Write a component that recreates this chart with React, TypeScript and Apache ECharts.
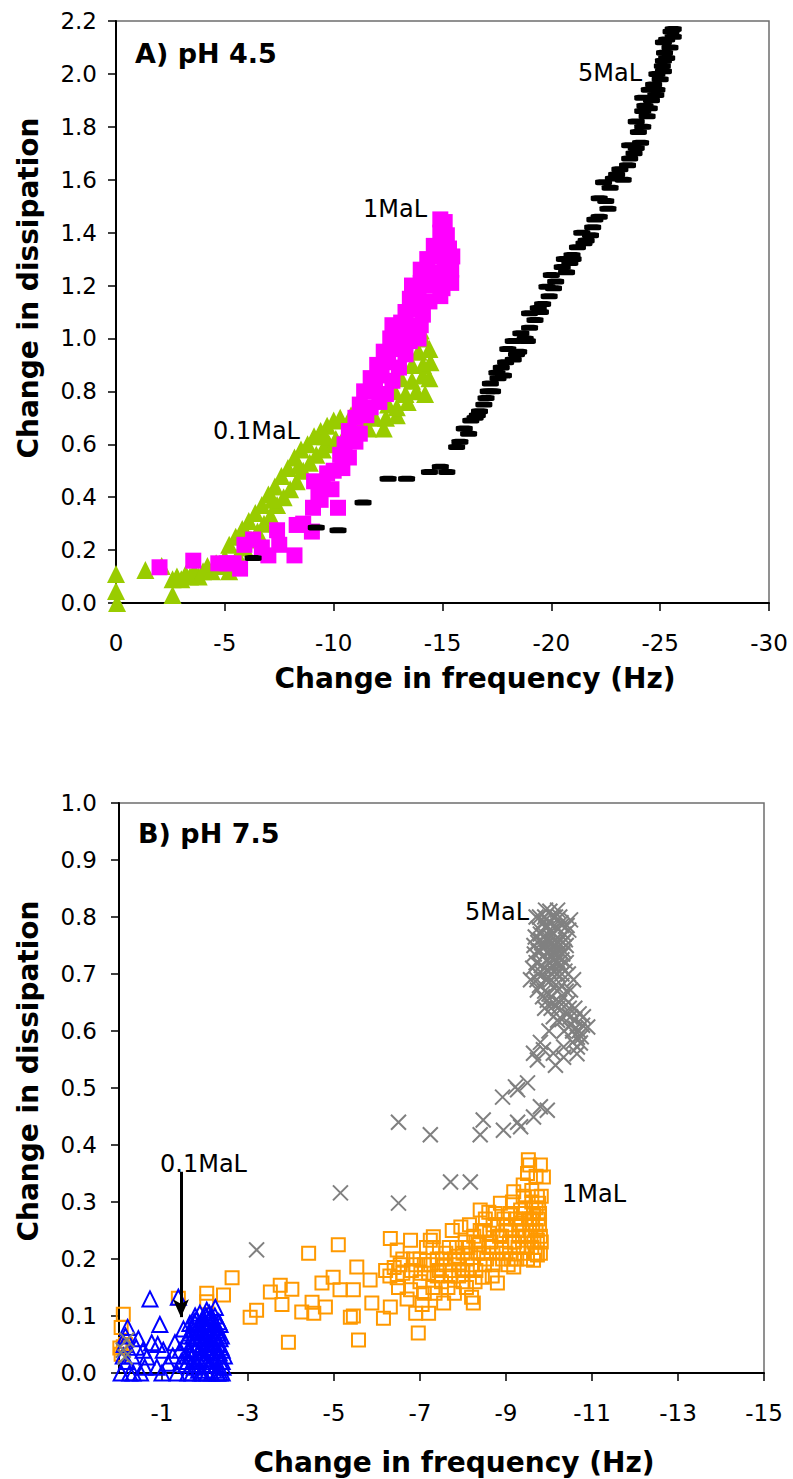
import React, { useEffect, useRef } from "react";
import * as echarts from "echarts";

// ---------- Panel A (pH 4.5) ----------
const topXTicks = { min: -30, max: 0, interval: 5 };
const topYTicks = { min: 0, max: 2.2, interval: 0.2 };

const topGreen01MaL: number[][] = [
  // low start
  [0.0, 0.11], [0.0, 0.045], [-0.05, 0.0], [-1.35, 0.125], [-2.1, 0.14], [-2.6, 0.03], [-2.6, 0.09],
  [-2.8, 0.1], [-3.0, 0.09], [-3.2, 0.11], [-3.4, 0.1], [-3.6, 0.12], [-3.8, 0.1], [-4.0, 0.12],
  [-4.2, 0.14], [-4.4, 0.12], [-4.6, 0.15], [-4.8, 0.14], [-5.0, 0.17], [-5.2, 0.12],
  // upper row of band
  [-5.2, 0.22], [-5.5, 0.25], [-5.8, 0.28], [-6.1, 0.31], [-6.4, 0.34], [-6.7, 0.37], [-7.0, 0.41],
  [-7.3, 0.44], [-7.6, 0.48], [-7.9, 0.51], [-8.2, 0.55], [-8.5, 0.58], [-8.8, 0.6], [-9.1, 0.63],
  [-9.4, 0.65], [-9.7, 0.67], [-10.0, 0.69], [-10.3, 0.7],
  // lower row of band
  [-5.3, 0.14], [-5.6, 0.18], [-5.9, 0.21], [-6.2, 0.24], [-6.5, 0.27], [-6.8, 0.3], [-7.1, 0.33],
  [-7.4, 0.37], [-7.7, 0.4], [-8.0, 0.43], [-8.3, 0.46], [-8.6, 0.5], [-8.9, 0.53], [-9.2, 0.56],
  [-9.5, 0.58], [-9.8, 0.6], [-10.1, 0.62],
  [-6.0, 0.26], [-7.2, 0.39], [-8.4, 0.52], [-9.6, 0.63],
  // continuation under / right of 1MaL
  [-10.6, 0.65], [-10.8, 0.71], [-11.1, 0.66], [-11.3, 0.7], [-11.6, 0.66], [-11.9, 0.7], [-12.3, 0.66],
  [-12.4, 0.7], [-12.9, 0.71], [-12.5, 0.75], [-12.9, 0.74], [-13.4, 0.76], [-12.8, 0.8], [-13.3, 0.79],
  [-13.8, 0.8], [-14.2, 0.79], [-13.1, 0.85], [-13.6, 0.84], [-14.1, 0.86], [-14.4, 0.85], [-13.6, 0.9],
  [-14.1, 0.9], [-14.45, 0.91], [-13.9, 0.95], [-14.4, 0.96], [-14.1, 1.0], [-14.0, 1.03],
];

const topMagenta1MaL: number[][] = [
  [-2.0, 0.135], [-3.55, 0.16], [-4.7, 0.15], [-5.1, 0.15], [-5.4, 0.15], [-5.7, 0.13], [-5.9, 0.22],
  [-6.3, 0.24], [-6.7, 0.21], [-7.0, 0.18], [-7.4, 0.275], [-7.5, 0.22], [-8.2, 0.18], [-8.3, 0.295],
  [-8.6, 0.3], [-9.0, 0.27], [-9.05, 0.36], [-9.3, 0.41], [-9.4, 0.39], [-9.1, 0.46], [-9.5, 0.45],
  [-9.9, 0.43], [-10.2, 0.36], [-9.7, 0.49],
  [-10.0, 0.5], [-10.4, 0.51], [-10.3, 0.56], [-10.7, 0.55], [-10.5, 0.6], [-11.0, 0.61], [-10.7, 0.65],
  [-11.2, 0.64], [-11.0, 0.7], [-11.5, 0.71], [-11.2, 0.75], [-11.7, 0.74], [-12.1, 0.76], [-11.4, 0.8],
  [-11.9, 0.81], [-12.4, 0.79], [-11.7, 0.85], [-12.2, 0.86], [-12.7, 0.84], [-12.0, 0.9], [-12.5, 0.91],
  [-13.0, 0.89], [-12.3, 0.95], [-12.8, 0.96], [-13.3, 0.94], [-12.6, 1.0], [-13.0, 1.01], [-13.5, 0.99],
  [-13.9, 1.0], [-12.7, 1.05], [-13.1, 1.06], [-13.5, 1.04], [-14.0, 1.05], [-13.3, 1.1], [-13.7, 1.11],
  [-14.1, 1.09], [-13.5, 1.15], [-13.9, 1.16], [-14.4, 1.14], [-14.9, 1.16], [-13.6, 1.2], [-14.0, 1.21],
  [-14.5, 1.2], [-15.0, 1.19], [-15.4, 1.21], [-14.0, 1.26], [-14.5, 1.25], [-14.9, 1.24], [-15.4, 1.26],
  [-14.3, 1.3], [-14.7, 1.31], [-15.1, 1.29], [-15.45, 1.31], [-14.6, 1.35], [-15.0, 1.36], [-15.3, 1.34],
  [-14.9, 1.4], [-15.2, 1.39], [-14.9, 1.45], [-15.1, 1.44],
];

const topBlack5MaL: number[][] = [
  [-6.3, 0.17], [-9.2, 0.285], [-10.2, 0.275], [-11.35, 0.38], [-12.5, 0.47], [-13.35, 0.47],
  [-14.4, 0.495], [-15.2, 0.495], [-14.9, 0.515], [-15.65, 0.59], [-15.8, 0.61], [-16.0, 0.66], [-16.2, 0.64],
  [-16.3, 0.69], [-16.5, 0.7], [-16.6, 0.71], [-16.7, 0.725], [-16.9, 0.75], [-17.0, 0.775], [-17.1, 0.8],
  [-17.3, 0.8], [-17.2, 0.83], [-17.55, 0.85], [-17.8, 0.86], [-17.5, 0.87], [-17.7, 0.89], [-17.9, 0.91],
  [-18.25, 0.92], [-18.4, 0.94], [-18.5, 0.95], [-18.0, 0.96], [-18.25, 0.99], [-18.9, 0.99], [-18.8, 1.0],
  [-18.6, 1.02], [-19.0, 1.04], [-19.25, 1.07], [-19.5, 1.1], [-19.0, 1.095], [-19.4, 1.115], [-19.6, 1.13],
  [-19.9, 1.16], [-20.1, 1.19], [-19.8, 1.195], [-20.2, 1.215], [-20.0, 1.24], [-20.7, 1.25], [-20.5, 1.27],
  [-20.85, 1.285], [-20.6, 1.3], [-21.0, 1.3], [-20.95, 1.315], [-21.2, 1.345], [-21.5, 1.36], [-21.6, 1.37],
  [-21.8, 1.39], [-21.4, 1.4], [-21.9, 1.42], [-22.0, 1.45], [-22.2, 1.46], [-22.6, 1.49], [-22.5, 1.52],
  [-22.2, 1.53], [-22.7, 1.57], [-22.4, 1.59], [-23.3, 1.6], [-22.85, 1.605], [-23.0, 1.62], [-23.15, 1.64],
  [-23.5, 1.655], [-23.6, 1.68], [-23.8, 1.7], [-23.9, 1.72], [-23.6, 1.73], [-24.1, 1.74], [-24.0, 1.78],
  [-24.2, 1.8], [-23.9, 1.82], [-24.4, 1.84], [-24.2, 1.86], [-24.5, 1.87], [-24.3, 1.88], [-24.6, 1.9],
  [-24.2, 1.91], [-24.8, 1.92], [-24.5, 1.94], [-24.85, 1.94], [-24.7, 1.96], [-25.0, 1.98], [-24.85, 2.0],
  [-25.15, 2.01], [-25.1, 2.03], [-25.15, 2.05], [-25.3, 2.06], [-25.2, 2.08], [-25.45, 2.1], [-25.15, 2.12],
  [-25.3, 2.13], [-25.6, 2.14], [-25.5, 2.16], [-25.6, 2.17],
];

// ---------- Panel B (pH 7.5) ----------
const bottomXLabels = [-1, -3, -5, -7, -9, -11, -13, -15];
const bottomXRange = { min: -15, max: 0 };
const bottomYTicks = { min: 0, max: 1, interval: 0.1 };

const bottomBlue01MaL: number[][] = [
  [-0.05, 0.0], [-0.25, 0.0], [-0.5, 0.0], [-0.18, 0.02], [-0.56, 0.04], [-0.45, 0.06], [-0.2, 0.08],
  [-0.12, 0.05], [-0.3, 0.03], [-0.1, 0.03], [-0.72, 0.13], [-0.95, 0.085], [-1.03, 0.04], [-0.88, 0.01],
  [-1.14, 0.017], [-1.38, 0.133], [-0.76, 0.053], [-1.3, 0.053], [-0.65, 0.028], [-1.5, 0.077], [-1.42, 0.04],
  [-1.65, 0.087], [-1.8, 0.093], [-1.88, 0.105], [-2.04, 0.11], [-2.24, 0.115], [-1.6, 0.0], [-2.28, 0.0],
  [-2.35, 0.0], [-1.0, 0.0], [-0.33, 0.0], [-1.6, 0.02], [-1.7, 0.05], [-1.75, 0.01], [-1.85, 0.035],
  [-1.9, 0.065], [-1.95, 0.0], [-2.0, 0.045], [-2.05, 0.08], [-2.1, 0.015], [-2.15, 0.06], [-2.2, 0.03],
  [-2.25, 0.085], [-2.3, 0.05], [-2.35, 0.02], [-2.1, 0.095], [-1.95, 0.075], [-1.8, 0.06], [-2.0, 0.025],
  [-2.2, 0.005], [-1.7, 0.03], [-2.3, 0.07], [-2.4, 0.04], [-1.55, 0.055], [-2.15, 0.04], [-2.25, 0.015],
  [-1.9, 0.0], [-2.05, 0.0], [-1.85, 0.085], [-2.35, 0.085],
  [-1.65, 0.07], [-1.75, 0.09], [-1.8, 0.02], [-1.9, 0.045], [-1.95, 0.095], [-2.0, 0.06], [-2.05, 0.035],
  [-2.1, 0.07], [-2.15, 0.1], [-2.2, 0.05], [-2.25, 0.065], [-2.3, 0.03], [-2.35, 0.06], [-2.4, 0.0],
  [-2.4, 0.02], [-1.7, 0.0], [-1.85, 0.005], [-2.15, 0.0], [-2.3, 0.0], [-2.0, 0.09], [-2.1, 0.105],
  [-2.2, 0.08], [-1.6, 0.04], [-1.55, 0.015], [-1.45, 0.02], [-1.35, 0.0], [-1.25, 0.03], [-0.9, 0.05],
  [-0.6, 0.01], [-0.4, 0.045], [-0.15, 0.065],
  [-1.62, 0.065], [-1.68, 0.015], [-1.73, 0.075], [-1.78, 0.04], [-1.83, 0.07], [-1.87, 0.02], [-1.93, 0.05],
  [-1.98, 0.085], [-2.03, 0.015], [-2.07, 0.055], [-2.12, 0.085], [-2.17, 0.025], [-2.22, 0.06], [-2.27, 0.04],
  [-2.32, 0.09], [-2.37, 0.045], [-1.66, 0.035], [-1.72, 0.065], [-1.77, 0.1], [-1.82, 0.05], [-1.88, 0.08],
  [-1.92, 0.03], [-1.97, 0.06], [-2.02, 0.1], [-2.08, 0.04], [-2.13, 0.075], [-2.18, 0.045], [-2.23, 0.1],
  [-2.28, 0.075], [-2.33, 0.035], [-2.38, 0.065], [-2.42, 0.01], [-1.58, 0.03], [-2.45, 0.03],
];

const bottomOrange1MaL: number[][] = [
  [-0.1, 0.103], [-0.05, 0.08], [-0.02, 0.044], [-0.1, 0.046], [-0.05, 0.033], [-0.15, 0.05],
  [-1.38, 0.131], [-2.04, 0.14], [-2.04, 0.125], [-2.43, 0.137], [-2.63, 0.167], [-3.05, 0.098], [-3.2, 0.11],
  [-3.52, 0.142], [-3.75, 0.154], [-4.02, 0.147], [-3.79, 0.12], [-3.94, 0.054], [-4.41, 0.21], [-4.25, 0.107],
  [-4.53, 0.105], [-4.49, 0.124], [-4.72, 0.158], [-4.8, 0.116], [-4.98, 0.168], [-5.1, 0.225], [-5.14, 0.146],
  [-5.38, 0.098], [-5.45, 0.1], [-5.57, 0.058], [-5.53, 0.186], [-5.45, 0.146], [-5.84, 0.163], [-5.88, 0.123],
  [-6.15, 0.096], [-6.31, 0.236], [-6.31, 0.116], [-6.47, 0.216], [-6.78, 0.233], [-6.54, 0.19], [-6.47, 0.167],
  [-6.96, 0.07], [-6.78, 0.146], [-7.24, 0.233], [-7.31, 0.239],
  [-6.2, 0.18], [-6.3, 0.17], [-6.4, 0.185], [-6.5, 0.15], [-6.6, 0.175], [-6.7, 0.13], [-6.8, 0.18],
  [-6.9, 0.105], [-6.85, 0.2], [-7.0, 0.16], [-7.05, 0.12], [-7.1, 0.19], [-7.2, 0.105], [-7.2, 0.175],
  [-7.3, 0.22], [-7.35, 0.14], [-7.4, 0.2], [-7.5, 0.16], [-7.55, 0.123], [-7.6, 0.21], [-7.7, 0.18],
  [-7.75, 0.25], [-7.8, 0.14], [-7.85, 0.22], [-7.9, 0.19], [-7.95, 0.256], [-8.0, 0.16], [-8.05, 0.23],
  [-8.1, 0.2], [-8.2, 0.133], [-8.24, 0.123], [-8.25, 0.24], [-8.3, 0.18], [-8.35, 0.21], [-8.4, 0.286],
  [-8.45, 0.168], [-8.5, 0.25], [-8.55, 0.2], [-8.6, 0.282], [-8.65, 0.23], [-8.7, 0.19], [-8.8, 0.158],
  [-8.8, 0.26], [-8.87, 0.298], [-8.9, 0.22], [-9.0, 0.25], [-9.05, 0.19], [-9.1, 0.28], [-9.18, 0.318],
  [-9.18, 0.186], [-9.2, 0.23], [-9.3, 0.26], [-9.34, 0.286], [-9.4, 0.21], [-9.45, 0.24], [-9.5, 0.35],
  [-9.52, 0.374], [-9.55, 0.27], [-9.6, 0.22], [-9.64, 0.198], [-9.64, 0.28], [-9.7, 0.25], [-9.73, 0.309],
  [-9.73, 0.207], [-9.73, 0.233], [-9.76, 0.298], [-9.8, 0.365], [-9.87, 0.344], [-9.6, 0.3], [-9.4, 0.31],
  [-7.0, 0.2], [-7.15, 0.22], [-7.45, 0.18], [-7.65, 0.15], [-7.9, 0.17], [-8.0, 0.21], [-8.15, 0.26],
  [-8.3, 0.23], [-8.5, 0.19], [-8.6, 0.22], [-8.7, 0.26], [-8.75, 0.28], [-8.95, 0.27], [-9.0, 0.21],
  [-9.1, 0.25], [-9.15, 0.3], [-9.25, 0.2], [-9.3, 0.24], [-9.35, 0.27], [-9.45, 0.29], [-9.5, 0.2],
  [-9.55, 0.25], [-9.6, 0.27], [-9.65, 0.23], [-9.7, 0.29], [-9.75, 0.27], [-9.8, 0.24], [-9.8, 0.21],
  [-8.9, 0.24], [-8.4, 0.25], [-8.1, 0.18], [-7.8, 0.2], [-7.6, 0.19], [-7.3, 0.15], [-7.1, 0.14],
  [-6.9, 0.19], [-6.6, 0.2], [-9.4, 0.33], [-9.6, 0.32], [-9.7, 0.345], [-9.55, 0.365],
  [-7.02, 0.175], [-7.25, 0.19], [-7.4, 0.17], [-7.52, 0.2], [-7.68, 0.22], [-7.72, 0.17], [-7.88, 0.205],
  [-7.98, 0.18], [-8.08, 0.15], [-8.12, 0.22], [-8.22, 0.19], [-8.28, 0.16], [-8.38, 0.225], [-8.48, 0.21],
  [-8.52, 0.27], [-8.62, 0.245], [-8.68, 0.17], [-8.78, 0.21], [-8.85, 0.24], [-8.92, 0.2], [-9.02, 0.26],
  [-9.08, 0.23], [-9.12, 0.2], [-9.22, 0.27], [-9.28, 0.22], [-9.38, 0.25], [-9.42, 0.28], [-9.48, 0.22],
  [-9.58, 0.24], [-9.62, 0.26], [-9.68, 0.21], [-9.78, 0.26], [-9.78, 0.28], [-9.82, 0.31], [-9.82, 0.23],
];

const bottomGray5MaL: number[][] = [
  [-0.18, 0.058], [-0.14, 0.028], [-0.1, 0.04],
  [-3.2, 0.216], [-5.15, 0.316], [-6.5, 0.44], [-6.5, 0.298], [-7.24, 0.418], [-7.71, 0.335], [-8.17, 0.335],
  [-8.4, 0.418], [-8.47, 0.444], [-8.94, 0.426], [-9.34, 0.432], [-9.27, 0.44], [-8.92, 0.484], [-9.27, 0.497],
  [-9.22, 0.502], [-9.5, 0.509], [-9.8, 0.467], [-9.96, 0.461], [-9.64, 0.449],
  [-9.73, 0.549], [-10.1, 0.561], [-10.34, 0.572], [-10.73, 0.579], [-9.64, 0.561], [-9.87, 0.567],
  [-10.34, 0.554], [-10.66, 0.572], [-10.15, 0.54], [-10.8, 0.625], [-10.9, 0.607], [-10.66, 0.589],
  [-10.2, 0.619], [-9.96, 0.654], [-10.5, 0.672], [-9.73, 0.672], [-10.57, 0.69], [-9.57, 0.69],
  [-9.8, 0.76], [-10.46, 0.777], [-10.5, 0.795], [-10.2, 0.812], [-9.92, 0.812],
  [-9.7, 0.72], [-9.75, 0.78], [-9.8, 0.74], [-9.85, 0.7], [-9.9, 0.8], [-9.95, 0.76], [-10.0, 0.72],
  [-10.0, 0.79], [-10.05, 0.745], [-10.1, 0.705], [-10.1, 0.77], [-10.15, 0.8], [-10.2, 0.73], [-10.25, 0.76],
  [-10.3, 0.7], [-10.3, 0.785], [-10.35, 0.74], [-10.4, 0.72], [-9.95, 0.69], [-10.15, 0.68], [-9.85, 0.66],
  [-10.05, 0.64], [-10.25, 0.65], [-10.4, 0.63], [-10.6, 0.64], [-10.7, 0.6], [-10.5, 0.61], [-10.35, 0.6],
  [-10.55, 0.58], [-10.0, 0.6], [-9.8, 0.58], [-10.4, 0.67], [-10.2, 0.67],
  [-9.65, 0.75], [-9.7, 0.8], [-9.75, 0.7], [-9.8, 0.77], [-9.85, 0.73], [-9.9, 0.75], [-9.9, 0.71],
  [-9.95, 0.785], [-10.0, 0.755], [-10.0, 0.705], [-10.05, 0.775], [-10.05, 0.73], [-10.1, 0.8], [-10.1, 0.745],
  [-10.15, 0.72], [-10.15, 0.76], [-10.2, 0.78], [-10.2, 0.7], [-10.25, 0.74], [-10.25, 0.8], [-10.3, 0.725],
  [-10.35, 0.77], [-10.4, 0.75], [-9.75, 0.74], [-9.85, 0.79], [-9.95, 0.725], [-10.05, 0.69], [-10.3, 0.68],
  [-10.45, 0.7], [-9.9, 0.64], [-10.1, 0.625], [-10.3, 0.62], [-10.45, 0.65], [-10.6, 0.62], [-10.55, 0.6],
  [-10.75, 0.59], [-10.65, 0.56],
  [-9.62, 0.71], [-9.68, 0.765], [-9.72, 0.69], [-9.78, 0.8], [-9.82, 0.715], [-9.88, 0.765], [-9.92, 0.69],
  [-9.97, 0.74], [-10.02, 0.81], [-10.03, 0.765], [-10.07, 0.715], [-10.12, 0.785], [-10.13, 0.735], [-10.18, 0.7],
  [-10.22, 0.755], [-10.27, 0.715], [-10.28, 0.79], [-10.33, 0.755], [-10.37, 0.705], [-10.42, 0.785],
  [-9.66, 0.735], [-9.74, 0.755], [-9.83, 0.755], [-9.93, 0.78], [-10.08, 0.755], [-10.17, 0.745],
  [-10.23, 0.72], [-10.32, 0.735], [-10.38, 0.76], [-9.78, 0.68], [-9.9, 0.67], [-10.0, 0.665], [-10.1, 0.65],
  [-10.2, 0.64], [-10.33, 0.66], [-10.47, 0.64], [-10.5, 0.625], [-10.62, 0.605], [-10.7, 0.63], [-10.78, 0.61],
];

// arrow for the 0.1MaL annotation (data coordinates)
const arrowStart = [-1.44, 0.353];
const arrowEnd = [-1.44, 0.098];

const FONT = "'DejaVu Sans', sans-serif";

export default function App() {
  const ref = useRef<HTMLDivElement>(null);

  useEffect(() => {
    if (!ref.current) return;
    const chart = echarts.init(ref.current, null, { renderer: "svg" });

    const axisLine = { show: true, onZero: false, lineStyle: { color: "#000", width: 2 } };
    const axisTick = { show: true, length: 8, lineStyle: { color: "#000", width: 1.5 } };
    const labelBase = { color: "#000", fontSize: 23, fontFamily: FONT };
    const fmt1 = (v: number) => v.toFixed(1);
    const fmtX = (v: number) => String(Math.round(v));

    const text = (t: string, x: number, y: number, size: number, bold = false, extra: any = {}) => ({
      type: "text",
      x,
      y,
      rotation: extra.rotation || 0,
      style: {
        text: t,
        fontSize: size,
        fontFamily: FONT,
        fontWeight: bold ? "bold" : "normal",
        fill: "#000",
        textAlign: extra.align || "left",
        textVerticalAlign: "middle",
      },
    });

    chart.setOption({
      animation: false,
      backgroundColor: "#fff",
      grid: [
        { left: 116, top: 21, width: 653, height: 582, show: true, borderColor: "#6e6e6e", borderWidth: 1.5, backgroundColor: "transparent" },
        { left: 119, top: 803, width: 645, height: 570, show: true, borderColor: "#6e6e6e", borderWidth: 1.5, backgroundColor: "transparent" },
      ],
      xAxis: [
        {
          type: "value", gridIndex: 0, inverse: true,
          min: topXTicks.min, max: topXTicks.max, interval: topXTicks.interval,
          axisLine, axisTick, splitLine: { show: false },
          axisLabel: { ...labelBase, margin: 28, formatter: fmtX },
        },
        {
          type: "value", gridIndex: 1, inverse: true,
          min: bottomXRange.min, max: bottomXRange.max,
          axisLine,
          axisTick: { ...axisTick, customValues: bottomXLabels },
          splitLine: { show: false },
          axisLabel: { ...labelBase, margin: 28, formatter: fmtX, customValues: bottomXLabels },
        },
      ],
      yAxis: [
        {
          type: "value", gridIndex: 0,
          min: topYTicks.min, max: topYTicks.max, interval: topYTicks.interval,
          axisLine, axisTick, splitLine: { show: false },
          axisLabel: { ...labelBase, margin: 19, formatter: fmt1 },
        },
        {
          type: "value", gridIndex: 1,
          min: bottomYTicks.min, max: bottomYTicks.max, interval: bottomYTicks.interval,
          axisLine, axisTick, splitLine: { show: false },
          axisLabel: { ...labelBase, margin: 22, formatter: fmt1 },
        },
      ],
      series: [
        {
          name: "0.1MaL pH4.5", type: "scatter", xAxisIndex: 0, yAxisIndex: 0,
          data: topGreen01MaL, symbol: "triangle", symbolSize: 18,
          itemStyle: { color: "#99CC00", opacity: 1 }, silent: true,
        },
        {
          name: "1MaL pH4.5", type: "scatter", xAxisIndex: 0, yAxisIndex: 0,
          data: topMagenta1MaL, symbol: "rect", symbolSize: 16,
          itemStyle: { color: "#FF00FF", opacity: 1 }, silent: true,
        },
        {
          name: "5MaL pH4.5", type: "scatter", xAxisIndex: 0, yAxisIndex: 0,
          data: topBlack5MaL, symbol: "roundRect", symbolSize: [17, 6],
          itemStyle: { color: "#000", opacity: 1 }, silent: true,
        },
        {
          name: "1MaL pH7.5", type: "scatter", xAxisIndex: 1, yAxisIndex: 1,
          data: bottomOrange1MaL, symbol: "rect", symbolSize: 13,
          itemStyle: { color: "transparent", borderColor: "#FF9900", borderWidth: 2, opacity: 1 }, silent: true,
        },
        {
          name: "0.1MaL pH7.5", type: "scatter", xAxisIndex: 1, yAxisIndex: 1,
          data: bottomBlue01MaL, symbol: "triangle", symbolSize: 15,
          itemStyle: { color: "transparent", borderColor: "#0000FF", borderWidth: 2, opacity: 1 }, silent: true,
          markLine: {
            silent: true, animation: false,
            symbol: ["none", "arrow"], symbolSize: [12, 18],
            label: { show: false },
            lineStyle: { color: "#000", width: 3, type: "solid" },
            data: [[{ coord: arrowStart }, { coord: arrowEnd }]],
          },
        },
        {
          name: "5MaL pH7.5", type: "scatter", xAxisIndex: 1, yAxisIndex: 1,
          data: bottomGray5MaL, symbol: "path://M0,0L10,10M10,0L0,10", symbolSize: 15,
          itemStyle: { color: "transparent", borderColor: "#808080", borderWidth: 2, opacity: 1 }, silent: true,
        },
      ],
      graphic: [
        text("A) pH 4.5", 135, 53, 27, true),
        text("B) pH 7.5", 138, 833, 27, true),
        text("5MaL", 578, 73, 24),
        text("1MaL", 363, 209, 24),
        text("0.1MaL", 213, 431, 24),
        text("5MaL", 465, 912, 24),
        text("1MaL", 562, 1194, 24),
        text("0.1MaL", 160, 1164, 24),
        text("Change in frequency (Hz)", 475, 678, 28, true, { align: "center" }),
        text("Change in frequency (Hz)", 454, 1462, 28, true, { align: "center" }),
        text("Change in dissipation", 28, 288, 28, true, { align: "center", rotation: Math.PI / 2 }),
        text("Change in dissipation", 28, 1071, 28, true, { align: "center", rotation: Math.PI / 2 }),
      ],
    });

    return () => chart.dispose();
  }, []);

  return (
    <div
      ref={ref}
      style={{ position: "absolute", left: 0, top: 0, width: 793, height: 1479, background: "#fff" }}
    />
  );
}
